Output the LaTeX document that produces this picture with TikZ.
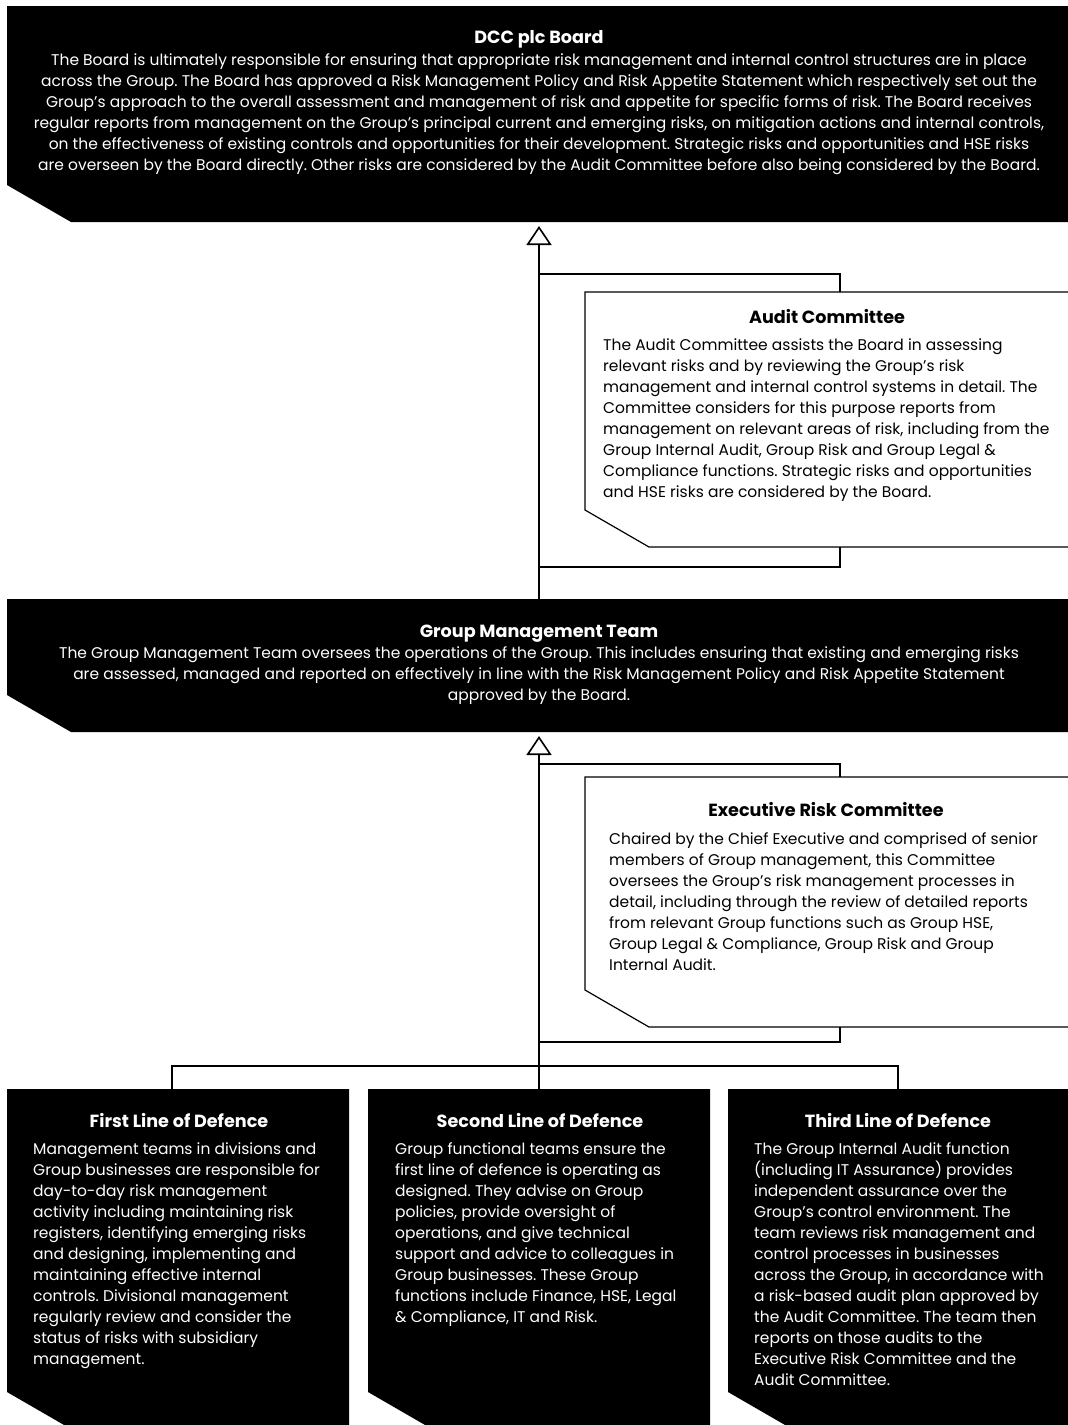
\documentclass[tikz,border=0pt]{standalone}
\usepackage{fontspec}
\setmainfont{Poppins}
\usepackage{tikz}
\usetikzlibrary{arrows.meta, positioning, calc}
\frenchspacing

% chamfered plates, drawn from the anchors of an (invisible) frame node
\newcommand{\darkplate}[1]{\fill[black] (#1.north west) -- (#1.north east) -- (#1.south east) -- ([xshift=64pt]#1.south west) -- ([yshift=37pt]#1.south west) -- cycle;}
\newcommand{\lightplate}[1]{\draw[line width=1.2pt, fill=white] (#1.north west) -- (#1.north east) -- (#1.south east) -- ([xshift=64pt]#1.south west) -- ([yshift=37pt]#1.south west) -- cycle;}

\begin{document}
\begin{tikzpicture}[
    x=1pt, y=-1pt,
    frame/.style={inner sep=0pt, outer sep=0pt},
    boxtitle/.style={inner sep=0pt, anchor=base, font=\fontsize{17.6}{20}\selectfont\bfseries},
    bodytext/.style={inner sep=0pt, font=\fontsize{15.5}{21}\selectfont},
    centretext/.style={bodytext, anchor=north, align=center},
    lefttext/.style={bodytext, anchor=north west, align=left},
    link/.style={line width=1.6pt},
    uplink/.style={link, -{Triangle[open, width=25pt, length=19pt]}, shorten >=4pt}
]
\useasboundingbox (0,0) rectangle (1068,1425);
\clip (0,0) rectangle (1068,1425);

% Frames (Board, committees, management, three lines)
\node[frame, minimum width=1065pt, minimum height=216pt] (board) at (539.5,114) {};
\node[frame, minimum width=487pt, minimum height=255pt] (audit) at (828.5,419.5) {};
\node[frame, minimum width=1065pt, minimum height=133pt] (gmt) at (539.5,665.5) {};
\node[frame, minimum width=487pt, minimum height=250pt] (erc) at (828.5,902) {};
\node[frame, minimum width=342pt, minimum height=340pt] (first) at (178,1259) {};
\node[frame, minimum width=342pt, minimum height=340pt, right=19pt of first] (second) {};
\node[frame, minimum width=344pt, minimum height=340pt, right=18pt of second] (third) {};

\darkplate{board}
\lightplate{audit}
\darkplate{gmt}
\lightplate{erc}
\darkplate{first}
\darkplate{second}
\darkplate{third}

% Board
\node[boxtitle, white] (boardtitle) at (539,43.5) {DCC plc Board};
\node[centretext, white] (boardtext) at (539,50.5) {\strut The Board is ultimately responsible for ensuring that appropriate risk management and internal control structures are in place\\
across the Group. The Board has approved a Risk Management Policy and Risk Appetite Statement which respectively set out the\\
Group’s approach to the overall assessment and management of risk and appetite for specific forms of risk. The Board receives\\
regular reports from management on the Group’s principal current and emerging risks, on mitigation actions and internal controls,\\
on the effectiveness of existing controls and opportunities for their development. Strategic risks and opportunities and HSE risks\\
are overseen by the Board directly. Other risks are considered by the Audit Committee before also being considered by the Board.};

% Audit Committee
\node[boxtitle] (audittitle) at (827,323) {Audit Committee};
\node[lefttext] (audittext) at (603,335.5) {\strut The Audit Committee assists the Board in assessing\\
relevant risks and by reviewing the Group’s risk\\
management and internal control systems in detail. The\\
Committee considers for this purpose reports from\\
management on relevant areas of risk, including from the\\
Group Internal Audit, Group Risk and Group Legal \&\\
Compliance functions. Strategic risks and opportunities\\
and HSE risks are considered by the Board.};

% Group Management Team
\node[boxtitle, white] (gmttitle) at (539,637) {Group Management Team};
\node[centretext, white] (gmttext) at (539,643.5) {\strut The Group Management Team oversees the operations of the Group. This includes ensuring that existing and emerging risks\\
are assessed, managed and reported on effectively in line with the Risk Management Policy and Risk Appetite Statement\\
approved by the Board.};

% Executive Risk Committee
\node[boxtitle] (erctitle) at (826,816) {Executive Risk Committee};
\node[lefttext] (erctext) at (609,829.5) {\strut Chaired by the Chief Executive and comprised of senior\\
members of Group management, this Committee\\
oversees the Group’s risk management processes in\\
detail, including through the review of detailed reports\\
from relevant Group functions such as Group HSE,\\
Group Legal \& Compliance, Group Risk and Group\\
Internal Audit.};

% Three lines of defence
\node[boxtitle, white] (firsttitle) at (179,1127) {First Line of Defence};
\node[lefttext, white] (firsttext) at (33,1139.5) {\strut Management teams in divisions and\\
Group businesses are responsible for\\
day-to-day risk management\\
activity including maintaining risk\\
registers, identifying emerging risks\\
and designing, implementing and\\
maintaining effective internal\\
controls. Divisional management\\
regularly review and consider the\\
status of risks with subsidiary\\
management.};

\node[boxtitle, white] (secondtitle) at (540,1127) {Second Line of Defence};
\node[lefttext, white] (secondtext) at (395,1139.5) {\strut Group functional teams ensure the\\
first line of defence is operating as\\
designed. They advise on Group\\
policies, provide oversight of\\
operations, and give technical\\
support and advice to colleagues in\\
Group businesses. These Group\\
functions include Finance, HSE, Legal\\
\& Compliance, IT and Risk.};

\node[boxtitle, white] (thirdtitle) at (898,1127) {Third Line of Defence};
\node[lefttext, white] (thirdtext) at (754,1139.5) {\strut The Group Internal Audit function\\
(including IT Assurance) provides\\
independent assurance over the\\
Group’s control environment. The\\
team reviews risk management and\\
control processes in businesses\\
across the Group, in accordance with\\
a risk-based audit plan approved by\\
the Audit Committee. The team then\\
reports on those audits to the\\
Executive Risk Committee and the\\
Audit Committee.};

% Reporting lines
\coordinate (audittap) at (840,274);
\coordinate (auditout) at (840,567);
\coordinate (erctap) at (840,764);
\coordinate (ercout) at (840,1042);
\coordinate (bus) at (539,1066);

\draw[uplink] (gmt.north -| second.north) -- (board.south -| second.north);
\draw[link] (second.north |- audittap) -| (audit.north -| audittap);
\draw[link] (audit.south -| auditout) |- (second.north |- auditout);

\draw[uplink] (second.north) -- (gmt.south -| second.north);
\draw[link] (second.north |- erctap) -| (erc.north -| erctap);
\draw[link] (erc.south -| ercout) |- (second.north |- ercout);

\draw[link] (first.north -| 172,0) |- (bus) -| (third.north -| 898,0);

\end{tikzpicture}
\end{document}
